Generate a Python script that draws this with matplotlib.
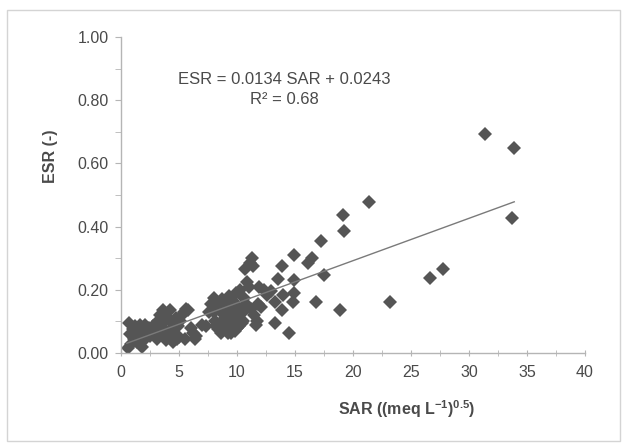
import matplotlib
matplotlib.use('Agg')
from matplotlib import pyplot as plt
from matplotlib.patches import Rectangle
import numpy as np

plt.rcParams['font.family'] = ['Liberation Sans', 'DejaVu Sans']
plt.rcParams['mathtext.fontset'] = 'custom'
plt.rcParams['mathtext.rm'] = 'Liberation Sans:bold'
plt.rcParams['mathtext.default'] = 'rm'

# SAR / ESR pairs
sar_low = [0.6, 0.7, 0.8, 0.9, 1.0, 1.1, 1.2, 1.3, 1.4, 1.5, 1.6, 1.7, 1.8, 1.9, 2.0,
           2.1, 2.2, 2.4, 2.5, 2.6, 2.8, 2.9, 3.0, 3.1, 3.2, 3.3, 3.4, 3.5, 3.6, 3.7,
           3.8, 3.9, 4.0, 4.1, 4.2, 4.3, 4.4, 4.5, 4.6, 4.7, 4.8, 4.9, 5.0, 5.1, 5.3,
           5.4, 5.5, 5.6, 5.8, 6.0, 6.2, 6.4, 6.5, 7.0, 7.3]
esr_low = [0.015, 0.095, 0.06, 0.03, 0.075, 0.045, 0.085, 0.06, 0.035, 0.07, 0.09, 0.05, 0.02, 0.075, 0.04,
           0.09, 0.065, 0.08, 0.055, 0.07, 0.085, 0.06, 0.075, 0.045, 0.1, 0.065, 0.12, 0.08, 0.135, 0.055,
           0.1, 0.04, 0.115, 0.07, 0.135, 0.05, 0.095, 0.035, 0.06, 0.11, 0.045, 0.085, 0.05, 0.1, 0.12,
           0.13, 0.045, 0.14, 0.135, 0.08, 0.065, 0.045, 0.055, 0.09, 0.085]

sar_mid = [7.6, 7.8, 8.0, 8.1, 8.2, 8.3, 8.4, 8.5, 8.6, 8.7, 8.8, 8.9, 9.0, 9.1, 9.2,
           9.3, 9.4, 9.5, 9.6, 9.7, 9.8, 9.9, 10.0, 10.1, 10.2, 10.3, 10.4, 10.5, 10.6, 10.7,
           10.8, 10.9, 11.0, 11.1, 11.2, 11.3, 11.4, 11.5, 11.6, 11.7, 11.8, 11.9, 12.1, 12.3, 12.6,
           12.9, 8.5, 9.0, 9.5, 10.0, 10.5, 9.7, 8.0]
esr_mid = [0.13, 0.155, 0.175, 0.1, 0.085, 0.16, 0.075, 0.14, 0.065, 0.17, 0.09, 0.12, 0.075, 0.155, 0.065,
           0.18, 0.1, 0.13, 0.085, 0.16, 0.07, 0.19, 0.11, 0.145, 0.085, 0.2, 0.095, 0.13, 0.175, 0.265,
           0.155, 0.225, 0.21, 0.285, 0.14, 0.3, 0.275, 0.12, 0.09, 0.1, 0.155, 0.21, 0.145, 0.2, 0.185,
           0.195, 0.095, 0.105, 0.065, 0.08, 0.1, 0.12, 0.13]

sar_high = [13.3, 13.3, 13.5, 13.9, 13.9, 14.0, 14.5, 14.8, 14.9, 14.9, 14.9, 16.1, 16.5, 16.8,
            17.2, 17.5, 18.9, 19.1, 19.2, 21.4, 23.2, 26.6, 27.8, 31.4, 33.7, 33.9]
esr_high = [0.163, 0.096, 0.235, 0.276, 0.137, 0.183, 0.065, 0.16, 0.309, 0.23, 0.19, 0.285, 0.3, 0.163,
            0.356, 0.246, 0.137, 0.438, 0.387, 0.477, 0.16, 0.238, 0.265, 0.694, 0.426, 0.65]

slope = 0.0134
intercept = 0.0243
r2 = 0.68

sar = np.array(sar_low + sar_mid + sar_high)
esr = np.array(esr_low + esr_mid + esr_high)

fig = plt.figure(figsize=(6.22, 4.43), dpi=100)
ax = fig.add_axes([0.1945, 0.203, 0.746, 0.7135])

# light frame around the whole chart
fig.patches.append(Rectangle((0.012, 0.004), 0.984, 0.973, transform=fig.transFigure,
                             fill=False, edgecolor='#d4d4d4', linewidth=1.0))

ax.plot(sar, esr, linestyle='none', marker='D', markersize=6.8,
        color='#555555', markeredgewidth=0)

line_x = np.array([0.5, sar.max()])
ax.plot(line_x, slope * line_x + intercept, color='#7a7a7a', linewidth=1.0)

ax.text(14.1, 0.867, f'ESR = {slope} SAR + {intercept}', ha='center', va='center',
        fontsize=12, color='#4a4a4a')
ax.text(14.1, 0.803, f'R² = {r2}', ha='center', va='center',
        fontsize=12, color='#4a4a4a')

ax.set_xlim(0, 40)
ax.set_ylim(0, 1.0)
ax.set_xticks(np.arange(0, 41, 5))
ax.set_xticks(np.arange(0, 40.1, 2.5), minor=True)
ax.set_yticks(np.arange(0, 1.01, 0.2))
ax.set_yticks(np.arange(0, 1.01, 0.1), minor=True)
ax.set_yticklabels([f'{v:.2f}' for v in np.arange(0, 1.01, 0.2)])

for side in ['top', 'right']:
    ax.spines[side].set_visible(False)
for side in ['left', 'bottom']:
    ax.spines[side].set_color('#b5b5b5')
    ax.spines[side].set_linewidth(1.0)

ax.tick_params(axis='x', which='both', direction='inout', length=5, color='#b5b5b5',
               labelsize=11.5, labelcolor='#4a4a4a', pad=6)
ax.tick_params(axis='y', which='both', direction='out', length=4, color='#b5b5b5',
               labelsize=11.5, labelcolor='#4a4a4a', pad=5)

ax.set_xlabel(r'SAR ((meq L$^{-1}$)$^{0.5}$)', fontsize=11.5, fontweight='bold', color='#4a4a4a')
ax.xaxis.set_label_coords(0.616, -0.142)
ax.set_ylabel('ESR (-)', fontsize=11.5, fontweight='bold', color='#4a4a4a')
ax.yaxis.set_label_coords(-0.136, 0.623)

fig.savefig('out.png', dpi=100)
